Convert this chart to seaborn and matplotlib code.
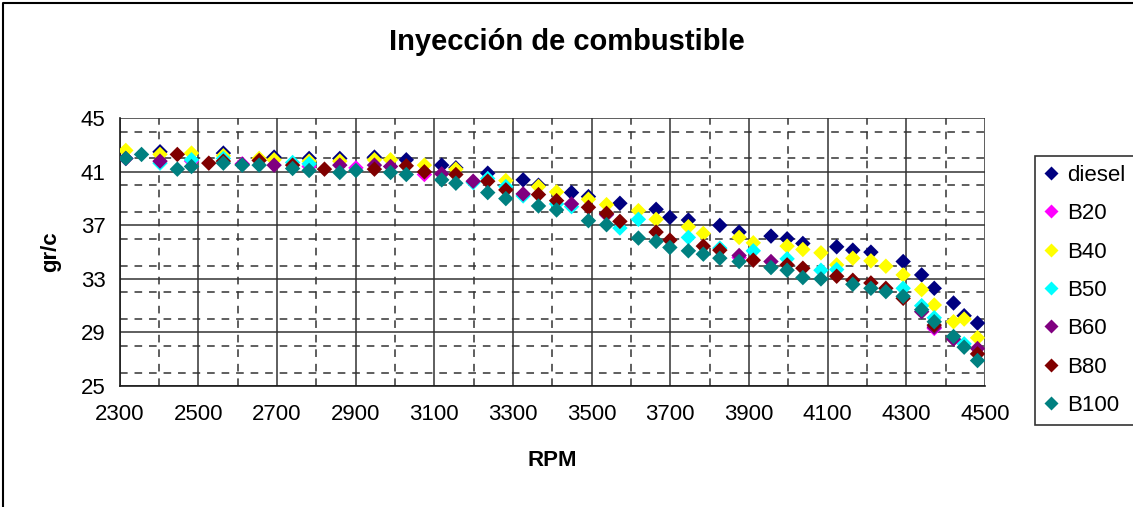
import matplotlib
matplotlib.use("Agg")
import matplotlib.pyplot as plt
from matplotlib.lines import Line2D
from matplotlib.ticker import MultipleLocator
import numpy as np
import pandas as pd
import seaborn as sns

# Fuel injection (gr/c) versus engine speed (RPM) for diesel and biodiesel blends
rpm_diesel = [2403, 2564, 2693, 2782, 2860, 2948, 3029, 3119, 3155, 3236, 3326, 3365,
              3449, 3492, 3572, 3664, 3699, 3746, 3826, 3875, 3956, 3997, 4037, 4123,
              4164, 4210, 4292, 4339, 4371, 4420, 4447, 4481]
gc_diesel = [42.5, 42.4, 42.1, 42.0, 42.0, 42.1, 41.9, 41.5, 41.3, 40.9, 40.4, 40.0,
             39.45, 39.15, 38.65, 38.2, 37.6, 37.4, 37.0, 36.5, 36.2, 36.0, 35.65, 35.4,
             35.15, 35.0, 34.3, 33.3, 32.3, 31.2, 30.25, 29.7]

rpm_b20 = [2316, 2483, 2612, 2782, 2901, 3075, 3875, 4371]
gc_b20 = [42.0, 41.8, 41.6, 41.4, 41.3, 40.8, 34.6, 29.3]

rpm_b40 = [2316, 2403, 2483, 2564, 2655, 2693, 2782, 2860, 2948, 2989, 3075, 3155,
           3282, 3365, 3411, 3492, 3538, 3619, 3664, 3746, 3784, 3875, 3911, 3997,
           4037, 4083, 4123, 4164, 4210, 4248, 4292, 4339, 4371, 4420, 4447, 4481]
gc_b40 = [42.6, 42.3, 42.4, 42.2, 42.0, 41.9, 41.8, 41.8, 41.9, 41.9, 41.5, 41.2,
          40.35, 39.9, 39.5, 38.95, 38.55, 38.1, 37.45, 36.9, 36.4, 36.1, 35.7, 35.45,
          35.2, 34.95, 34.05, 34.55, 34.35, 33.95, 33.3, 32.2, 31.05, 29.8, 30.0, 28.6]

rpm_b50 = [2403, 2483, 2564, 2740, 2782, 3199, 3236, 3282, 3326, 3411, 3449, 3572,
           3619, 3746, 3826, 3911, 3997, 4083, 4123, 4292, 4339, 4371, 4447]
gc_b50 = [41.65, 41.9, 42.0, 41.7, 41.6, 40.2, 40.5, 39.9, 39.2, 38.6, 38.4, 36.8,
          37.45, 36.1, 35.3, 35.1, 34.5, 33.65, 33.7, 32.3, 31.0, 30.1, 28.15]

rpm_b60 = [2316, 2403, 2612, 2693, 2860, 2948, 2989, 3119, 3199, 3326, 3449, 3538,
           3875, 3956, 4339, 4371, 4420, 4481]
gc_b60 = [42.0, 41.8, 41.55, 41.5, 41.5, 41.5, 41.4, 40.85, 40.3, 39.35, 38.6, 37.8,
          34.75, 34.3, 30.55, 29.4, 28.5, 27.8]

rpm_b80 = [2447, 2527, 2564, 2655, 2740, 2821, 2948, 3029, 3075, 3155, 3236, 3282,
           3365, 3411, 3492, 3538, 3572, 3664, 3699, 3784, 3826, 3911, 3997, 4037,
           4123, 4164, 4210, 4248, 4292, 4371, 4481]
gc_b80 = [42.3, 41.65, 41.8, 41.85, 41.5, 41.2, 41.2, 41.45, 41.0, 40.8, 40.3, 39.65,
          39.3, 38.85, 38.35, 37.9, 37.3, 36.5, 35.9, 35.45, 35.15, 34.4, 34.05, 33.8,
          33.2, 32.9, 32.7, 32.3, 31.55, 29.55, 27.4]

rpm_b100 = [2316, 2356, 2447, 2483, 2564, 2612, 2655, 2740, 2782, 2860, 2901, 2989,
            3029, 3119, 3155, 3236, 3282, 3365, 3411, 3492, 3538, 3619, 3664, 3699,
            3746, 3784, 3826, 3875, 3956, 3997, 4037, 4083, 4164, 4210, 4248, 4292,
            4339, 4371, 4420, 4447, 4481]
gc_b100 = [42.0, 42.3, 41.2, 41.4, 41.65, 41.5, 41.5, 41.25, 41.1, 40.95, 41.1, 40.95,
           40.8, 40.4, 40.15, 39.45, 39.0, 38.45, 38.15, 37.35, 37.05, 36.05, 35.8, 35.35,
           35.1, 34.85, 34.55, 34.3, 33.85, 33.65, 33.1, 33.0, 32.6, 32.3, 32.05, 31.7,
           30.7, 29.8, 28.7, 27.9, 26.9]

series_names = ["diesel", "B20", "B40", "B50", "B60", "B80", "B100"]
series_rpm = [rpm_diesel, rpm_b20, rpm_b40, rpm_b50, rpm_b60, rpm_b80, rpm_b100]
series_gc = [gc_diesel, gc_b20, gc_b40, gc_b50, gc_b60, gc_b80, gc_b100]
series_colors = ["#000080", "#FF00FF", "#FFFF00", "#00FFFF", "#800080", "#800000", "#008080"]

x_ticks = [2300, 2500, 2700, 2900, 3100, 3300, 3500, 3700, 3900, 4100, 4300, 4500]
y_ticks = [25, 29, 33, 37, 41, 45]

df = pd.concat(
    [pd.DataFrame({"RPM": r, "gr/c": g, "Combustible": n})
     for n, r, g in zip(series_names, series_rpm, series_gc)],
    ignore_index=True,
)

sns.set_theme(style="white")
plt.rcParams["font.family"] = ["Liberation Sans", "DejaVu Sans"]
plt.rcParams["text.color"] = "black"
plt.rcParams["axes.labelcolor"] = "black"
plt.rcParams["xtick.color"] = "black"
plt.rcParams["ytick.color"] = "black"

W, H = 1133, 507
fig = plt.figure(figsize=(W / 100, H / 100), dpi=100)
ax = fig.add_axes([119.5 / W, 1 - 386 / H, (985 - 119.5) / W, (386 - 118.3) / H])

sns.scatterplot(
    data=df, x="RPM", y="gr/c", hue="Combustible", hue_order=series_names,
    palette=dict(zip(series_names, series_colors)), marker="D", s=62,
    linewidth=0, edgecolor="none", ax=ax, legend=False, zorder=3,
)

ax.set_xlim(2300, 4500)
ax.set_ylim(25, 45)
ax.set_xticks(x_ticks)
ax.set_yticks(y_ticks)
ax.xaxis.set_minor_locator(MultipleLocator(100))
ax.yaxis.set_minor_locator(MultipleLocator(2))

grid_col = "#333333"
ax.grid(True, which="major", color=grid_col, linewidth=1.1, linestyle="-", zorder=0)
ax.grid(True, which="minor", color=grid_col, linewidth=1.1, linestyle=(0, (5, 4.5)), zorder=0)
ax.set_axisbelow(True)

for side in ["top", "right"]:
    ax.spines[side].set_visible(False)
for side in ["left", "bottom"]:
    ax.spines[side].set_color("#1a1a1a")
    ax.spines[side].set_linewidth(1.2)

ax.tick_params(axis="both", which="major", direction="out", length=6, width=1.1,
               color="#1a1a1a", labelsize=16, pad=4, labelcolor="black")
ax.tick_params(axis="both", which="minor", length=0)
ax.tick_params(axis="x", pad=7)

ax.set_xlabel("RPM", fontsize=16, fontweight="bold", labelpad=18, color="black")
ax.set_ylabel("gr/c", fontsize=16, fontweight="bold", labelpad=14, color="black")
fig.text(0.5, 1 - 42 / H, "Inyección de combustible", ha="center", va="center",
         fontsize=21, fontweight="bold", color="black")

# chart outer frame
fig.add_artist(Line2D([3 / W, 3 / W, 1.0], [0.0, 1 - 3 / H, 1 - 3 / H],
                      transform=fig.transFigure, color="black", linewidth=1.5))

handles = [Line2D([], [], linestyle="none", marker="D", markersize=7,
                  markerfacecolor=c, markeredgecolor="none", label=n)
           for n, c in zip(series_names, series_colors)]
leg = fig.legend(handles=handles, loc="upper left", bbox_to_anchor=(1035 / W, 1 - 156 / H),
                 frameon=True, fancybox=False, edgecolor="black", fontsize=16,
                 handlelength=0.6, handletextpad=0.45, labelspacing=0.78,
                 borderpad=0.4, borderaxespad=0, labelcolor="black")
leg.get_frame().set_linewidth(1.2)

fig.savefig("out.png", dpi=100)
